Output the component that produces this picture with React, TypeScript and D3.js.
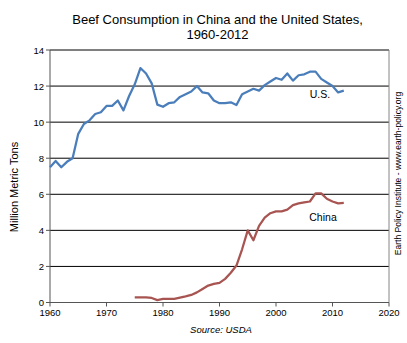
import React from "react";
import * as d3 from "d3";

const usYears = d3.range(1960, 2013);
const usValues = [
  7.5, 7.85, 7.5, 7.8, 8.0, 9.35, 9.9, 10.1, 10.45, 10.55,
  10.9, 10.9, 11.2, 10.65, 11.45, 12.1, 13.0, 12.7, 12.15, 10.97,
  10.85, 11.05, 11.1, 11.4, 11.55, 11.7, 12.0, 11.65, 11.6, 11.2,
  11.05, 11.05, 11.1, 10.95, 11.55, 11.7, 11.85, 11.75, 12.05, 12.25,
  12.45, 12.35, 12.7, 12.3, 12.6, 12.65, 12.8, 12.8, 12.4, 12.2,
  12.0, 11.65, 11.75,
];
const chinaYears = d3.range(1975, 2013);
const chinaValues = [
  0.28, 0.28, 0.28, 0.25, 0.13, 0.2, 0.2, 0.2, 0.27, 0.34,
  0.42, 0.56, 0.75, 0.94, 1.03, 1.09, 1.31, 1.65, 2.05, 2.95,
  4.0, 3.45, 4.25, 4.7, 4.95, 5.05, 5.05, 5.15, 5.4, 5.5,
  5.55, 5.6, 6.05, 6.05, 5.75, 5.6, 5.5, 5.52,
];
const xTicks = [1960, 1970, 1980, 1990, 2000, 2010, 2020];
const yTicks = [0, 2, 4, 6, 8, 10, 12, 14];

const W = 407, H = 343;
const L = 50, R = 389, T = 50, B = 302.5;
const font = "'Liberation Sans', Arial, sans-serif";

export default function App() {
  const x = d3.scaleLinear().domain([1960, 2020]).range([L, R]);
  const y = d3.scaleLinear().domain([0, 14]).range([B, T]);
  const line = d3.line<[number, number]>().x((d) => x(d[0])).y((d) => y(d[1]));
  const us = usYears.map((yr, i) => [yr, usValues[i]] as [number, number]);
  const cn = chinaYears.map((yr, i) => [yr, chinaValues[i]] as [number, number]);
  return (
    <svg width={W} height={H} style={{ position: "absolute", left: 0, top: 0, background: "#fff" }} fontFamily={font}>
      <text x={217.5} y={24} textAnchor="middle" fontSize={13}>Beef Consumption in China and the United States,</text>
      <text x={217.5} y={38.5} textAnchor="middle" fontSize={13}>1960-2012</text>
      {yTicks.filter((t) => t > 0).map((t) => (
        <line key={t} x1={L} x2={R} y1={y(t)} y2={y(t)} stroke="#000" strokeWidth={1} />
      ))}
      <line x1={R} x2={R} y1={T} y2={B} stroke="#868686" strokeWidth={1} />
      <line x1={L} x2={L} y1={T} y2={B} stroke="#555" strokeWidth={1} />
      <line x1={L} x2={R} y1={B} y2={B} stroke="#555" strokeWidth={1} />
      {yTicks.map((t) => (
        <g key={t}>
          <line x1={L - 4} x2={L} y1={y(t)} y2={y(t)} stroke="#555" />
          <text x={L - 6} y={y(t) + 3.5} textAnchor="end" fontSize={9.5}>{t}</text>
        </g>
      ))}
      {xTicks.map((t) => (
        <g key={t}>
          <line x1={x(t)} x2={x(t)} y1={B} y2={B + 4} stroke="#555" />
          <text x={x(t)} y={B + 13.5} textAnchor="middle" fontSize={9.5}>{t}</text>
        </g>
      ))}
      <path d={line(us) || ""} fill="none" stroke="#4A7EBB" strokeWidth={2.25} strokeLinejoin="round" />
      <path d={line(cn) || ""} fill="none" stroke="#A85552" strokeWidth={2.25} strokeLinejoin="round" />
      <text x={320} y={98} textAnchor="middle" fontSize={10.5}>U.S.</text>
      <text x={323} y={221} textAnchor="middle" fontSize={10.5}>China</text>
      <text transform={`translate(18,187) rotate(-90)`} textAnchor="middle" fontSize={11}>Million Metric Tons</text>
      <text transform={`translate(401,173.5) rotate(-90)`} textAnchor="middle" fontSize={8.5}>Earth Policy Institute - www.earth-policy.org</text>
      <text x={221} y={333} textAnchor="middle" fontSize={9.5} fontStyle="italic">Source: USDA</text>
    </svg>
  );
}
